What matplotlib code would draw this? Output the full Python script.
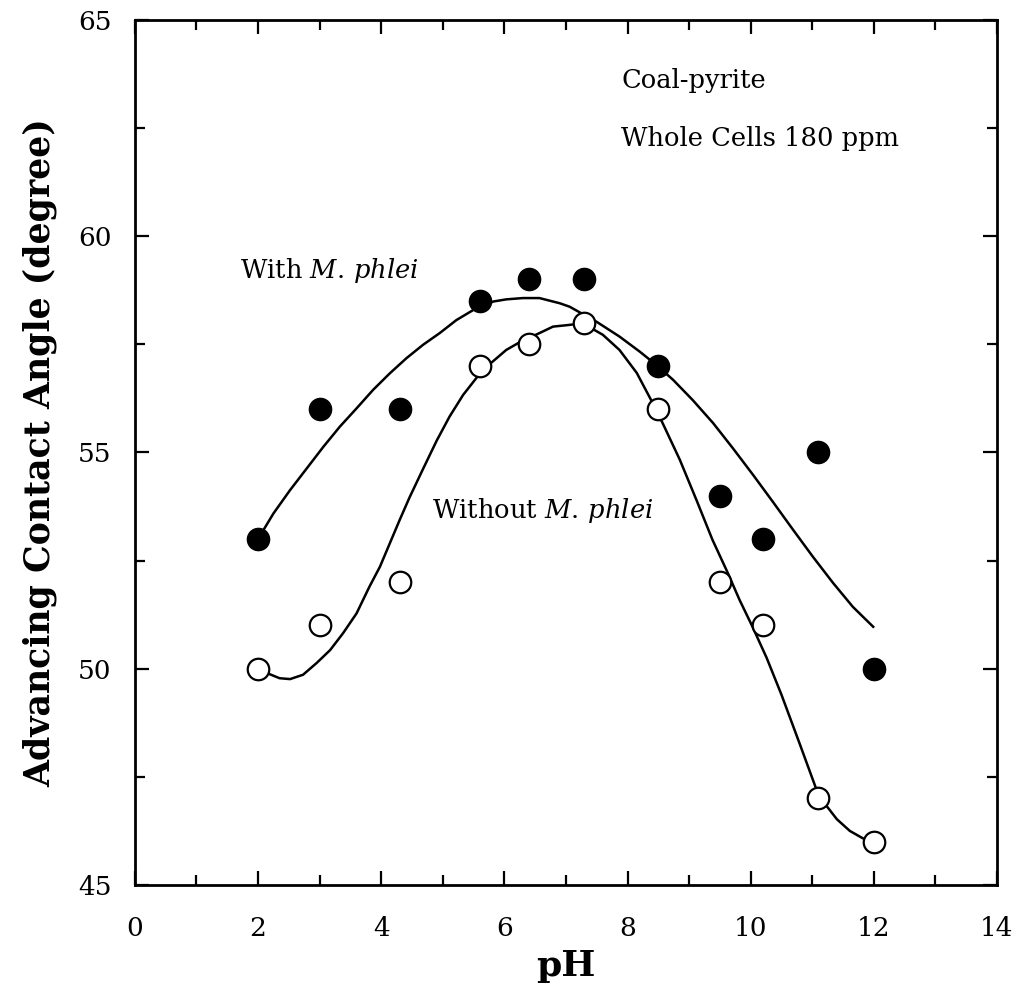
import numpy as np
import matplotlib
matplotlib.use("Agg")
from matplotlib import pyplot as plt
from matplotlib.ticker import MultipleLocator


# DATA
ph_points = [2.0, 3.0, 4.3, 5.6, 6.4, 7.3, 8.5, 9.5, 10.2, 11.1, 12.0]
angle_with = [53.0, 56.0, 56.0, 58.5, 59.0, 59.0, 57.0, 54.0, 53.0, 55.0, 50.0]
angle_without = [50.0, 51.0, 52.0, 57.0, 57.5, 58.0, 56.0, 52.0, 51.0, 47.0, 46.0]

# fitted curves
curve_with_x = [2.00, 2.25, 2.52, 2.79, 3.06, 3.33, 3.60, 3.87, 4.14, 4.41, 4.68,
                4.95, 5.22, 5.49, 5.82, 6.03, 6.30, 6.57, 6.90, 7.06, 7.50, 7.87,
                8.20, 8.47, 8.74, 9.06, 9.39, 9.71, 10.04, 10.36, 10.69, 11.01,
                11.34, 11.66, 11.99]
curve_with_y = [53.00, 53.59, 54.13, 54.63, 55.13, 55.60, 56.02, 56.45, 56.83, 57.18, 57.49,
                57.76, 58.06, 58.29, 58.49, 58.54, 58.57, 58.57, 58.45, 58.37, 58.02, 57.68,
                57.33, 57.02, 56.68, 56.21, 55.68, 55.10, 54.48, 53.86, 53.21, 52.59,
                51.98, 51.43, 50.97]

curve_without_x = [2.00, 2.16, 2.35, 2.52, 2.73, 2.95, 3.17, 3.38, 3.60, 3.81, 3.98,
                   4.14, 4.30, 4.46, 4.68, 4.90, 5.11, 5.33, 5.55, 5.76, 6.03, 6.25,
                   6.57, 6.79, 7.06, 7.27, 7.60, 7.87, 8.15, 8.41, 8.57, 8.85, 9.12,
                   9.38, 9.63, 9.82, 10.03, 10.26, 10.50, 10.80, 11.07, 11.22, 11.40,
                   11.61, 11.82, 11.98]
curve_without_y = [50.00, 49.89, 49.78, 49.76, 49.86, 50.13, 50.43, 50.82, 51.28, 51.90, 52.36,
                   52.90, 53.44, 53.96, 54.62, 55.27, 55.83, 56.33, 56.73, 57.04, 57.37, 57.55,
                   57.76, 57.91, 57.95, 57.99, 57.72, 57.37, 56.84, 56.14, 55.68, 54.83, 53.90,
                   52.98, 52.21, 51.59, 50.97, 50.25, 49.40, 48.25, 47.20, 46.85, 46.52,
                   46.25, 46.08, 46.00]

x_ticks = [0, 2, 4, 6, 8, 10, 12, 14]
y_ticks = [45, 50, 55, 60, 65]


# STYLE
plt.rcParams['font.family'] = ['DejaVu Serif']
plt.rcParams['mathtext.fontset'] = 'dejavuserif'
ink = "black"
tick_size = 19
label_size = 26
note_size = 18.5


fig = plt.figure(figsize=(10.22, 9.94), dpi=100)
ax = fig.add_axes([0.132, 0.1097, 0.8435, 0.8702])

ax.plot(curve_with_x, curve_with_y, color=ink, linewidth=1.8, zorder=2)
ax.plot(curve_without_x, curve_without_y, color=ink, linewidth=1.8, zorder=2)
ax.plot(ph_points, angle_with, linestyle="none", marker="o", markersize=16,
        markerfacecolor=ink, markeredgecolor=ink, zorder=3)
ax.plot(ph_points, angle_without, linestyle="none", marker="o", markersize=15.5,
        markerfacecolor="white", markeredgecolor=ink, markeredgewidth=1.6, zorder=3)

# axes cosmetics
ax.set_xlim(0, 14)
ax.set_ylim(45, 65)
ax.set_xticks(x_ticks)
ax.set_yticks(y_ticks)
ax.xaxis.set_minor_locator(MultipleLocator(1))
ax.yaxis.set_minor_locator(MultipleLocator(2.5))
ax.tick_params(which="both", direction="in", top=True, right=True, width=1.6, colors=ink)
ax.tick_params(which="major", length=10, labelsize=tick_size)
ax.tick_params(which="minor", length=7.5)
ax.tick_params(axis="x", which="major", pad=22)
ax.tick_params(axis="y", which="major", pad=17)
for sp in ax.spines.values():
    sp.set_linewidth(2)

ax.set_xlabel("pH", fontsize=label_size, fontweight="bold", labelpad=6)
ax.set_ylabel("Advancing Contact Angle (degree)", fontsize=25, fontweight="bold", labelpad=15)

# annotations
ax.text(7.9, 63.6, "Coal-pyrite", fontsize=note_size, va="center", ha="left")
ax.text(7.9, 62.25, "Whole Cells 180 ppm", fontsize=note_size, va="center", ha="left")
ax.text(1.7, 59.2, r"With $\mathit{M.\,phlei}$", fontsize=note_size, va="center", ha="left")
ax.text(4.82, 53.65, r"Without $\mathit{M.\,phlei}$", fontsize=note_size, va="center", ha="left")

fig.savefig("out.png", dpi=100)
